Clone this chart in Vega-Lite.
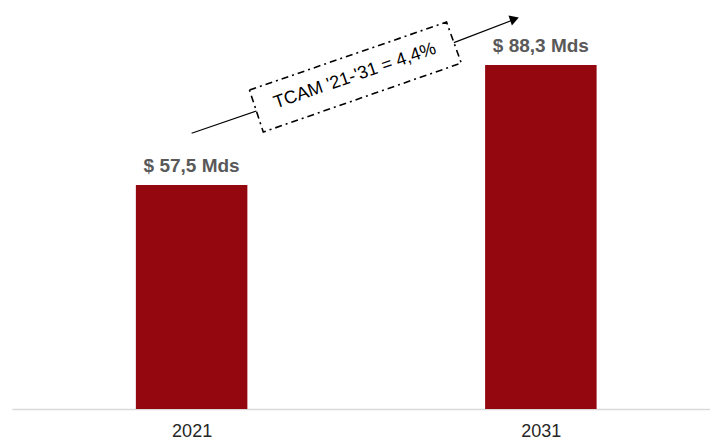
{
  "$schema": "https://vega.github.io/schema/vega-lite/v6.json",
  "autosize": {"type": "none"},
  "width": 698,
  "height": 409,
  "padding": {"left": 12, "top": 0, "right": 0, "bottom": 29},
  "background": "white",
  "config": {"view": {"stroke": null}, "font": "Liberation Sans"},
  "datasets": {
    "bars": [
      {"year": 2021, "value": 57.5, "label": "$ 57,5 Mds"},
      {"year": 2031, "value": 88.3, "label": "$ 88,3 Mds"}
    ],
    "arrow": [
      {"seg": "a", "ord": 1, "x": 2021.0, "y": 70.8},
      {"seg": "a", "ord": 2, "x": 2022.855, "y": 76.49},
      {"seg": "b", "ord": 1, "x": 2028.51, "y": 94.07},
      {"seg": "b", "ord": 2, "x": 2030.19, "y": 99.85}
    ],
    "box": [
      {"ord": 1, "x": 2022.657, "y": 81.88},
      {"ord": 2, "x": 2028.299, "y": 99.33},
      {"ord": 3, "x": 2028.722, "y": 88.81},
      {"ord": 4, "x": 2023.052, "y": 71.10},
      {"ord": 5, "x": 2022.657, "y": 81.88}
    ],
    "head": [{"x": 2030.245, "y": 100.1}],
    "note": [{"x": 2025.676, "y": 85.47, "text": "TCAM '21-'31 = 4,4%"}]
  },
  "layer": [
    {
      "data": {"name": "bars"},
      "mark": {"type": "bar", "width": 111.5, "color": "#94070f"},
      "encoding": {
        "x": {"field": "year", "type": "quantitative", "scale": {"domain": [2016, 2035.7], "zero": false, "nice": false},
          "axis": {"values": [2021, 2031], "format": "d", "title": null, "grid": false, "ticks": false,
            "domainColor": "#d9d9d9", "domainWidth": 1.5, "labelFontSize": 18, "labelColor": "#262626",
            "labelPadding": 13, "labelFont": "Liberation Sans"}},
        "y": {"field": "value", "type": "quantitative", "scale": {"domain": [0, 105], "nice": false}, "axis": null}
      }
    },
    {
      "data": {"name": "bars"},
      "mark": {"type": "text", "dy": -13, "baseline": "alphabetic", "align": "center", "fontSize": 19, "fontWeight": "bold", "color": "#595959", "font": "Liberation Sans"},
      "encoding": {
        "x": {"field": "year", "type": "quantitative", "scale": {"domain": [2016, 2035.7], "zero": false, "nice": false}},
        "y": {"field": "value", "type": "quantitative", "scale": {"domain": [0, 105], "nice": false}},
        "text": {"field": "label"}
      }
    },
    {
      "data": {"name": "arrow"},
      "mark": {"type": "line", "color": "black", "strokeWidth": 1.2},
      "encoding": {
        "x": {"field": "x", "type": "quantitative", "scale": {"domain": [2016, 2035.7], "zero": false, "nice": false}},
        "y": {"field": "y", "type": "quantitative", "scale": {"domain": [0, 105], "nice": false}},
        "detail": {"field": "seg"},
        "order": {"field": "ord"}
      }
    },
    {
      "data": {"name": "box"},
      "mark": {"type": "line", "color": "black", "strokeWidth": 1.6, "strokeDash": [7, 4, 2, 4]},
      "encoding": {
        "x": {"field": "x", "type": "quantitative", "scale": {"domain": [2016, 2035.7], "zero": false, "nice": false}},
        "y": {"field": "y", "type": "quantitative", "scale": {"domain": [0, 105], "nice": false}},
        "order": {"field": "ord"}
      }
    },
    {
      "data": {"name": "head"},
      "mark": {"type": "point", "shape": "triangle-up", "filled": true, "color": "black", "opacity": 1, "size": 110, "angle": 71},
      "encoding": {
        "x": {"field": "x", "type": "quantitative", "scale": {"domain": [2016, 2035.7], "zero": false, "nice": false}},
        "y": {"field": "y", "type": "quantitative", "scale": {"domain": [0, 105], "nice": false}}
      }
    },
    {
      "data": {"name": "note"},
      "mark": {"type": "text", "angle": -19, "align": "center", "baseline": "middle", "fontSize": 18, "color": "black", "font": "Liberation Sans"},
      "encoding": {
        "x": {"field": "x", "type": "quantitative", "scale": {"domain": [2016, 2035.7], "zero": false, "nice": false}},
        "y": {"field": "y", "type": "quantitative", "scale": {"domain": [0, 105], "nice": false}},
        "text": {"field": "text"}
      }
    }
  ]
}
